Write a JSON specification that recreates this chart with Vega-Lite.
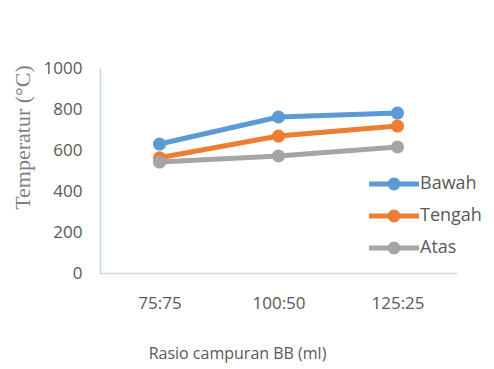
{
  "$schema": "https://vega.github.io/schema/vega-lite/v6.json",
  "autosize": "none",
  "width": 357,
  "height": 205,
  "padding": {"left": 100, "top": 68, "right": 37, "bottom": 96},
  "background": "white",
  "data": {
    "values": [
      {"rasio": "75:75", "posisi": "Bawah", "suhu": 629},
      {"rasio": "100:50", "posisi": "Bawah", "suhu": 761},
      {"rasio": "125:25", "posisi": "Bawah", "suhu": 780},
      {"rasio": "75:75", "posisi": "Tengah", "suhu": 562},
      {"rasio": "100:50", "posisi": "Tengah", "suhu": 668},
      {"rasio": "125:25", "posisi": "Tengah", "suhu": 717},
      {"rasio": "75:75", "posisi": "Atas", "suhu": 541},
      {"rasio": "100:50", "posisi": "Atas", "suhu": 571},
      {"rasio": "125:25", "posisi": "Atas", "suhu": 615}
    ]
  },
  "mark": {"type": "line", "strokeWidth": 5, "point": {"filled": true, "size": 170, "opacity": 1}},
  "encoding": {
    "x": {
      "field": "rasio",
      "type": "ordinal",
      "sort": ["75:75", "100:50", "125:25"],
      "scale": {"type": "point", "padding": 0.5},
      "axis": {
        "title": "Rasio campuran BB (ml)",
        "labelAngle": 0,
        "ticks": false,
        "grid": false,
        "domainColor": "#D9D9D9",
        "domainWidth": 1.5,
        "labelPadding": 22,
        "labelFont": "Open Sans",
        "labelFontSize": 17,
        "labelColor": "#595959",
        "titleFont": "Open Sans",
        "titleFontSize": 16,
        "titleFontWeight": "normal",
        "titleColor": "#595959",
        "titleX": 137,
        "titleY": 80,
        "titleAlign": "center",
        "titleBaseline": "middle"
      }
    },
    "y": {
      "field": "suhu",
      "type": "quantitative",
      "scale": {"domain": [0, 1000], "nice": false},
      "axis": {
        "title": "Temperatur (°C)",
        "values": [0, 200, 400, 600, 800, 1000],
        "format": "d",
        "ticks": false,
        "grid": false,
        "domainColor": "#BDD7EE",
        "domainWidth": 1.5,
        "labelPadding": 18,
        "labelFont": "Open Sans",
        "labelFontSize": 17,
        "labelColor": "#595959",
        "titleFont": "Liberation Serif",
        "titleFontSize": 22,
        "titleFontWeight": "normal",
        "titleColor": "#7F7F7F",
        "titleX": -78,
        "titleY": 69,
        "titleAngle": -90,
        "titleAlign": "center",
        "titleBaseline": "middle"
      }
    },
    "color": {
      "field": "posisi",
      "type": "nominal",
      "sort": ["Bawah", "Tengah", "Atas"],
      "scale": {"domain": ["Bawah", "Tengah", "Atas"], "range": ["#5B9BD5", "#ED7D31", "#A5A5A5"]},
      "legend": {
        "title": null,
        "orient": "none",
        "legendX": 265,
        "legendY": 107,
        "symbolType": "M-1,0 L9,0 M4.8,0 A0.8,0.8 0 1,1 3.2,0 A0.8,0.8 0 1,1 4.8,0 M4.2,0 A0.2,0.2 0 1,1 3.8,0 A0.2,0.2 0 1,1 4.2,0",
        "symbolSize": 100,
        "symbolStrokeWidth": 5,
        "symbolOpacity": 1,
        "labelFont": "Open Sans",
        "labelFontSize": 18,
        "labelColor": "#595959",
        "labelOffset": 37,
        "rowPadding": 4,
        "padding": 0
      }
    }
  },
  "config": {"view": {"stroke": null}}
}
